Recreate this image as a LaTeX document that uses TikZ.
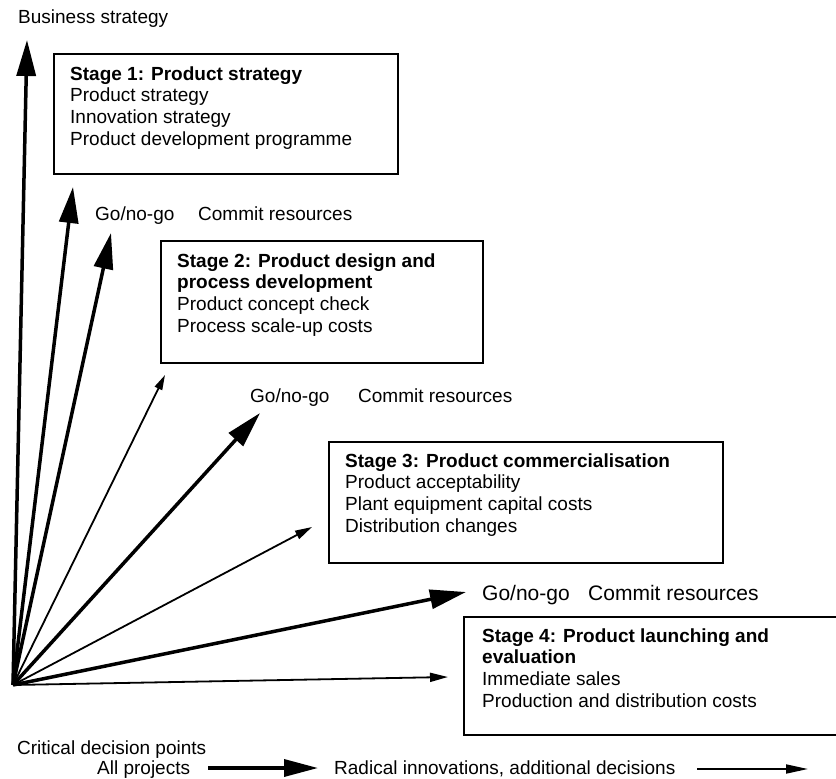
\documentclass[tikz,border=0pt]{standalone}
\usepackage{fontspec}
\setmainfont{Liberation Sans}
\usetikzlibrary{arrows.meta}
\begin{document}
\begin{tikzpicture}[x=1pt,y=-1pt,
  label/.style={anchor=base west, inner sep=0pt, font=\fontsize{19}{21.7}\selectfont},
  biglabel/.style={label, font=\fontsize{21}{24}\selectfont},
  stagetxt/.style={anchor=north west, inner sep=0pt, align=left, font=\fontsize{19}{21.7}\selectfont},
  stagebox/.style={draw, line width=1.8pt, anchor=north west, inner sep=0pt, fill=none},
  bigarrow/.style={line width=3.5pt, -{Triangle[length=36pt,width=19pt]}},
  thinarrow/.style={line width=1.8pt, -{Triangle[length=17pt,width=9pt]}},
  keythick/.style={line width=3.5pt, -{Triangle[length=34pt,width=17pt]}},
  keythin/.style={line width=1.8pt, -{Triangle[length=22pt,width=9pt]}}
]
\useasboundingbox (0,0) rectangle (836,779);
\clip (0,0) rectangle (836,779);

% stage boxes
\node[stagebox, minimum width=344pt, minimum height=120pt] (s1) at (53,53) {};
\node[stagebox, minimum width=322pt, minimum height=122pt] (s2) at (160,240) {};
\node[stagebox, minimum width=394pt, minimum height=121pt] (s3) at (328,441) {};
\node[stagebox, minimum width=390pt, minimum height=118pt] (s4) at (463,616) {};

% stage texts
\node[stagetxt] (s1t) at (70,66.1) {\textbf{Stage 1: Product strategy}\\Product strategy\\Innovation strategy\\Product development programme};
\node[stagetxt] (s2t) at (177,253.1) {\textbf{Stage 2: Product design and}\\\textbf{process development}\\Product concept check\\Process scale-up costs};
\node[stagetxt] (s3t) at (345,453.1) {\textbf{Stage 3: Product commercialisation}\\Product acceptability\\Plant equipment capital costs\\Distribution changes};
\node[stagetxt] (s4t) at (482,628.1) {\textbf{Stage 4: Product launching and}\\\textbf{evaluation}\\Immediate sales\\Production and distribution costs};

% labels
\node[label] (bs) at (18,23.5) {Business strategy};
\node[label] (g1) at (95,220) {Go/no-go};
\node[label] (c1) at (198,220) {Commit resources};
\node[label] (g2) at (250,402) {Go/no-go};
\node[label] (c2) at (358,402) {Commit resources};
\node[biglabel] (g3) at (482,600.5) {Go/no-go};
\node[biglabel] (c3) at (588,600.5) {Commit resources};

% fan of decision arrows
\coordinate (o) at (13,685);
\coordinate (t1) at (27,40);
\coordinate (t2) at (73,187);
\coordinate (t3) at (111,233);
\coordinate (t4) at (165,375);
\coordinate (t5) at (260,413);
\coordinate (t6) at (312,527);
\coordinate (t7) at (466,592);
\coordinate (t8) at (448,677);
\draw[bigarrow] (o) -- (t1);
\draw[bigarrow] (o) -- (t2);
\draw[bigarrow] (o) -- (t3);
\draw[thinarrow, -{Triangle[length=15pt,width=8pt]}] (o) -- (t4);
\draw[bigarrow] (o) -- (t5);
\draw[thinarrow] (o) -- (t6);
\draw[bigarrow] (o) -- (t7);
\draw[thinarrow, -{Triangle[length=18pt,width=9pt]}] (o) -- (t8);

% key
\node[label] (cdp) at (17,754) {Critical decision points};
\node[label] (ap) at (97,774.5) {All projects};
\node[label] (ri) at (334,774.5) {Radical innovations, additional decisions};
\coordinate (k1a) at (208,768);
\coordinate (k1b) at (318,768);
\coordinate (k2a) at (697,769);
\coordinate (k2b) at (808,769);
\draw[keythick] (k1a) -- (k1b);
\draw[keythin] (k2a) -- (k2b);
\end{tikzpicture}
\end{document}
